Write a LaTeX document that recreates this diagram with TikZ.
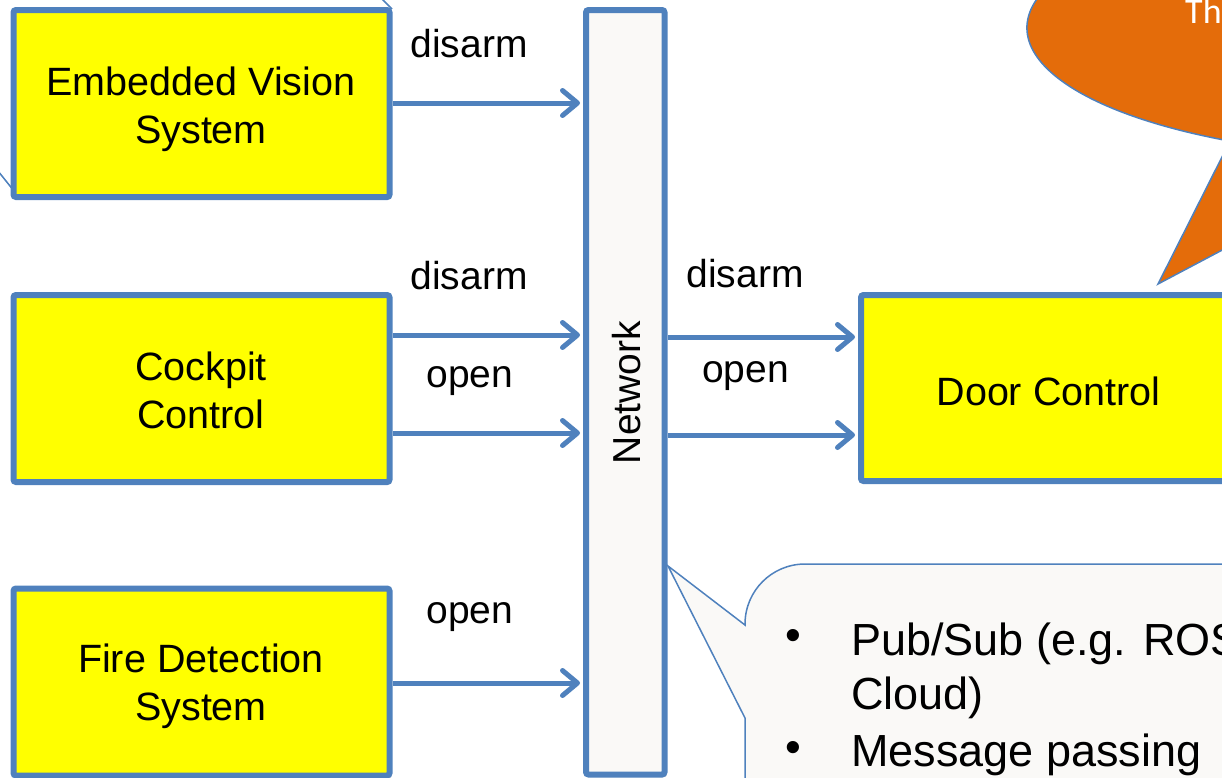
\documentclass[tikz,border=0pt]{standalone}
\usepackage{fontspec}
\setmainfont{Liberation Sans}
\newfontfamily\bubblefont{Carlito}
\usetikzlibrary{arrows.meta,shadows}
\definecolor{edge}{HTML}{4F81BD}
\definecolor{boxfill}{HTML}{FFFF00}
\definecolor{paperfill}{HTML}{FAF9F7}
\definecolor{calloutorange}{HTML}{E46C0A}
\begin{document}
\begin{tikzpicture}[x=1pt,y=-1pt,
  softshadow/.style={drop shadow={shadow xshift=2pt,shadow yshift=-2.5pt,opacity=0.22,fill=black}},
  sysbox/.style={draw=edge,line width=6pt,fill=boxfill,rounded corners=2.5pt,
    minimum width=376pt,minimum height=187pt,inner sep=0pt,softshadow},
  boxline/.style={font=\fontsize{39.5}{48}\selectfont,inner sep=0pt,anchor=base},
  netbar/.style={draw=edge,line width=6pt,fill=paperfill,rounded corners=2.5pt,
    minimum width=78.5pt,minimum height=764.5pt,inner sep=0pt,softshadow},
  netlabel/.style={font=\fontsize{39}{47}\selectfont,inner sep=0pt,rotate=90},
  msg/.style={font=\fontsize{39}{47}\selectfont,inner sep=0pt,anchor=base},
  arr/.style={draw=edge,line width=5pt,-{Straight Barb[length=15pt,width=25pt,round]},shorten >=3pt},
  thinedge/.style={draw=edge,line width=1.5pt},
  bullettext/.style={font=\fontsize{45}{54}\selectfont,inner sep=0pt,anchor=base west},
]
\useasboundingbox (0,0) rectangle (1222,777);
\clip (0,0) rectangle (1222,777);

% edges of a shape lying behind the vision box
\draw[thinedge] (381,-2) -- (392,9);
\draw[thinedge] (-2,171) -- (14,191);

% speech bubble, top right
\draw[thinedge,fill=calloutorange] (1158,284) -- (1230,141.1)
  arc[start angle=119.5,end angle=300,x radius=400,y radius=130]
  -- (1400,156) -- cycle;
\node[font=\bubblefont\fontsize{36}{43}\selectfont,text=white,inner sep=0pt,anchor=base west] (bubbletext) at (1185,23) {Th};

% network bus
\node[netbar] (net) at (625.25,392.25) {};
\node[netlabel] (netname) at (626.5,392.5) {Network};

% note callout pointing at the bus
\draw[thinedge,fill=paperfill] (745,800) -- (745,718) -- (668,566) -- (745,625)
  {[rounded corners=60pt] -- (745,564) -- (1000,564)} -- (1300,564) -- (1300,800) -- cycle;
\node[font=\fontsize{45}{54}\selectfont,inner sep=0pt] (b1) at (793,640) {•};
\node[bullettext] (t1) at (851,655) {Pub/Sub (e.g. ROS};
\node[bullettext] (t2) at (851,709) {Cloud)};
\node[font=\fontsize{45}{54}\selectfont,inner sep=0pt] (b2) at (793,752) {•};
\node[bullettext] (t3) at (851,766) {Message passing};

% subsystems
\node[sysbox] (ev) at (201.5,103.5) {};
\node[boxline] (ev1) at (201,95) {Embedded Vision};
\node[boxline] (ev2) at (201,143) {System};
\node[sysbox] (cc) at (201.5,388.5) {};
\node[boxline] (cc1) at (201,380) {Cockpit};
\node[boxline] (cc2) at (201,428) {Control};
\node[sysbox] (fd) at (201.5,682) {};
\node[boxline] (fd1) at (201,672) {Fire Detection};
\node[boxline] (fd2) at (201,720) {System};
\node[sysbox,minimum height=186pt] (dc) at (1049,388) {};
\node[boxline] (dc1) at (1048.5,405) {Door Control};

% messages into the bus
\draw[arr] (ev.east |- 0,103) -- (net.west |- 0,103);
\draw[arr] (cc.east |- 0,335) -- (net.west |- 0,335);
\draw[arr] (cc.east |- 0,433) -- (net.west |- 0,433);
\draw[arr] (fd.east |- 0,683) -- (net.west |- 0,683);
% messages out of the bus
\draw[arr] (net.east |- 0,337) -- (dc.west |- 0,337);
\draw[arr] (net.east |- 0,435) -- (dc.west |- 0,435);

% message labels
\node[msg] (l1) at (469,57) {disarm};
\node[msg] (l2) at (469,289) {disarm};
\node[msg] (l3) at (470,387) {open};
\node[msg] (l4) at (470,623) {open};
\node[msg] (l5) at (745,287) {disarm};
\node[msg] (l6) at (745.5,382) {open};
\end{tikzpicture}
\end{document}
